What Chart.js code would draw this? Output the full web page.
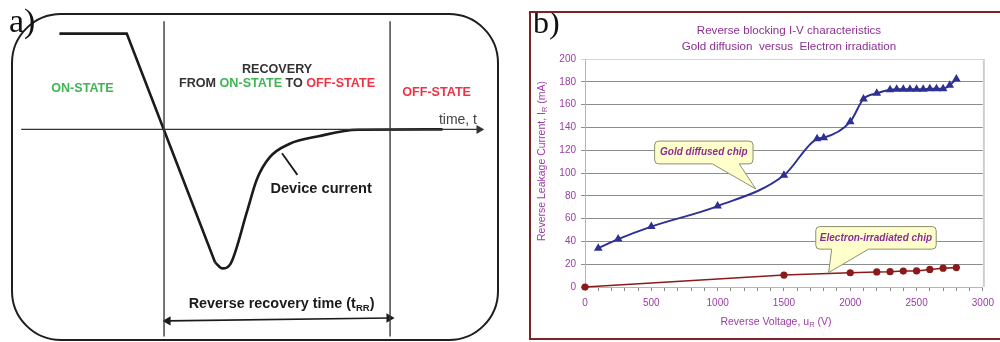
<!DOCTYPE html>
<html>
<head>
<meta charset="utf-8">
<title>Reverse recovery / reverse blocking I-V</title>
<script src="https://cdn.jsdelivr.net/npm/chart.js@4.4.1/dist/chart.umd.min.js"></script>
<style>
  body { margin: 0; width: 1000px; height: 342px; overflow: hidden; background: #fff; position: relative; }
  #boxA { position: absolute; left: 11px; top: 13px; width: 484px; height: 324px; border: 2px solid #1e1e1e; border-radius: 50px; }
  #boxB { position: absolute; left: 529px; top: 11px; width: 480px; height: 325px; border: 2px solid #7e2222; }
  #chartA { position: absolute; left: 0; top: 0; }
  #chartB { position: absolute; left: 531px; top: 13px; }
</style>
</head>
<body>
<div id="boxA"></div>
<div id="boxB"></div>
<canvas id="chartA" width="515" height="342"></canvas>
<canvas id="chartB" width="469" height="325"></canvas>
<script>
// ---- panel a) : schematic, time in % of tRR, current in % of on-state current
const onT = [-46.3, -16.5, 22.6];
const onI = [100, 100, -139];
const recT = [22.6, 25.8, 29.4, 36.7, 41, 46.8, 55.4, 68.4, 85.7, 123.2];
const recI = [-139, -145.2, -140.4, -85.9, -52.5, -29, -15.2, -7.1, -0.3, 0];
const axisT = [-63.2, 139.4];
const axisI = [0, 0];
const trrT = [0, 100];
const edgeI = [113, -216.2];
const markT = [1.7, 99.6];
const markI = [-200, -197];
const pointerT = [52.2, 59];
const pointerI = [-24.9, -47.5];

// ---- panel b) : reverse blocking I-V
const voltGold = [100, 250, 500, 1000, 1500, 1750, 1800, 2000, 2100, 2200, 2300, 2350, 2400, 2450, 2500, 2550, 2600, 2650, 2700, 2750, 2800];
const curGold = [34, 42, 53, 71, 98, 130, 131, 145, 165, 170, 173, 173.5, 173.5, 173.5, 173.5, 173.5, 174, 174, 174, 177, 182.5];
const voltElec = [0, 1500, 2000, 2200, 2300, 2400, 2500, 2600, 2700, 2800];
const curElec = [0, 10.5, 12.5, 13.2, 13.4, 14, 14.1, 15.4, 16.5, 17];

const sans = '"Liberation Sans", Arial, sans-serif';
const serif = '"Liberation Serif", "Times New Roman", serif';
const ink = '#1b1b1b';
const green = '#41b453';
const red = '#ef3345';
const purple = '#8c2f92';
const tickPurple = '#9a3ca6';
const navy = '#2e3192';
const maroon = '#8b1a1a';

const pts = (xs, ys) => xs.map((x, k) => ({ x: x, y: ys[k] }));

function drawRuns(ctx, runs, x, y, align) {
  let w = 0;
  runs.forEach(r => { ctx.font = r[2]; w += ctx.measureText(r[0]).width; });
  let sx = align === 'center' ? x - w / 2 : x;
  ctx.textAlign = 'left';
  ctx.textBaseline = 'middle';
  runs.forEach(r => {
    ctx.font = r[2];
    ctx.fillStyle = r[1];
    ctx.fillText(r[0], sx, y + (r[3] || 0));
    sx += ctx.measureText(r[0]).width;
  });
}

const stateFont = 'bold 12.6px ' + sans;
const bigBold = 'bold 14.4px ' + sans;
const labelsA = [
  { at: [-36.1, 42.4], runs: [['ON-STATE', green, stateFont]] },
  { at: [50, 62.6], runs: [['RECOVERY', '#333', stateFont]] },
  { at: [50, 48.2], runs: [['FROM ', '#333', stateFont], ['ON-STATE', green, stateFont], [' TO ', '#333', stateFont], ['OFF-STATE', red, stateFont]] },
  { at: [120.6, 38.1], runs: [['OFF-STATE', red, stateFont]] },
  { at: [121.6, 9.8], runs: [['time, t', '#444', '14px ' + sans]], align: 'left' },
  { at: [69.5, -62.6], runs: [['Device current', ink, 'bold 14.6px ' + sans]] },
  { at: [52, -182.8], runs: [['Reverse recovery time (t', ink, bigBold], ['RR', ink, 'bold 9.5px ' + sans, 4], [')', ink, bigBold]] }
];

const textA = {
  id: 'textA',
  afterDatasetsDraw(chart) {
    const ctx = chart.ctx, xs = chart.scales.x, ys = chart.scales.y;
    ctx.save();
    labelsA.forEach(l => {
      drawRuns(ctx, l.runs, xs.getPixelForValue(l.at[0]), ys.getPixelForValue(l.at[1]), l.align || 'center');
    });
    ctx.font = '34px ' + serif;
    ctx.fillStyle = '#111';
    ctx.textAlign = 'left';
    ctx.textBaseline = 'alphabetic';
    ctx.fillText('a)', 9, 32);
    ctx.restore();
  }
};

const seg = (xs, ys, extra) => Object.assign({
  data: pts(xs, ys), showLine: true, borderColor: '#3a3a3a', borderWidth: 1.4,
  pointRadius: 0, clip: false
}, extra);

new Chart(document.getElementById('chartA'), {
  type: 'scatter',
  data: {
    datasets: [
      seg(axisT, axisI, { borderColor: '#333', pointRadius: [0, 3.8], pointStyle: 'triangle', pointRotation: [0, 90], pointBackgroundColor: '#333', pointBorderColor: '#333' }),
      seg([trrT[0], trrT[0]], edgeI, {}),
      seg([trrT[1], trrT[1]], edgeI, {}),
      seg(markT, markI, { borderColor: ink, borderWidth: 1.6, pointRadius: 3.8, pointStyle: 'triangle', pointRotation: [-90, 90], pointBackgroundColor: ink, pointBorderColor: ink }),
      seg(onT, onI, { borderColor: ink, borderWidth: 2.6 }),
      seg(recT, recI, { borderColor: ink, borderWidth: 2.6, cubicInterpolationMode: 'monotone' }),
      seg(pointerT, pointerI, { borderColor: ink, borderWidth: 1.8 })
    ]
  },
  options: {
    responsive: false,
    animation: false,
    layout: { padding: 0 },
    plugins: { legend: { display: false }, tooltip: { enabled: false } },
    scales: {
      x: { type: 'linear', min: -70.1, max: 152.8, display: false },
      y: { type: 'linear', min: -216.2, max: 129.3, display: false }
    }
  },
  plugins: [textA]
});

// ---- panel b
const callouts = [
  { text: 'Gold diffused chip', tip: [1288, 86], box: [525, 1267, 128, 108], base: [960, 1163] },
  { text: 'Electron-irradiated chip', tip: [1837, 12.7], box: [1740, 2648, 53, 33.2], base: [1860, 2138] }
];

const textB = {
  id: 'textB',
  afterDatasetsDraw(chart) {
    const ctx = chart.ctx, xs = chart.scales.x, ys = chart.scales.y, a = chart.chartArea;
    ctx.save();
    ctx.strokeStyle = '#cfcfcf';
    ctx.lineWidth = 2;
    ctx.beginPath();
    ctx.moveTo(a.right + 1, a.top);
    ctx.lineTo(a.right + 1, a.bottom);
    ctx.stroke();

    callouts.forEach(c => {
      const L = xs.getPixelForValue(c.box[0]), R = xs.getPixelForValue(c.box[1]);
      const T = ys.getPixelForValue(c.box[2]), B = ys.getPixelForValue(c.box[3]);
      const b1 = xs.getPixelForValue(c.base[0]), b2 = xs.getPixelForValue(c.base[1]);
      const tx = xs.getPixelForValue(c.tip[0]), ty = ys.getPixelForValue(c.tip[1]);
      const r = 4;
      ctx.beginPath();
      ctx.moveTo(L + r, T);
      ctx.arcTo(R, T, R, B, r);
      ctx.arcTo(R, B, L, B, r);
      ctx.lineTo(b2, B);
      ctx.lineTo(tx, ty);
      ctx.lineTo(b1, B);
      ctx.arcTo(L, B, L, T, r);
      ctx.arcTo(L, T, R, T, r);
      ctx.closePath();
      ctx.fillStyle = '#ffffcc';
      ctx.fill();
      ctx.strokeStyle = '#8e8e70';
      ctx.lineWidth = 1;
      ctx.stroke();
      drawRuns(ctx, [[c.text, purple, 'italic bold 10px ' + sans]], (L + R) / 2, (T + B) / 2, 'center');
    });

    const cx = (a.left + a.right) / 2;
    const tf = '11.6px ' + sans;
    drawRuns(ctx, [['Reverse blocking I-V characteristics', purple, tf]], cx + 5, 18, 'center');
    drawRuns(ctx, [['Gold diffusion  versus  Electron irradiation', purple, tf]], cx + 5, 34, 'center');

    const af = '10.5px ' + sans, sf = '7.5px ' + sans;
    drawRuns(ctx, [['Reverse Voltage, u', tickPurple, af], ['R', tickPurple, sf, 3], [' (V)', tickPurple, af]], cx - 8, 309, 'center');
    ctx.translate(11, 148);
    ctx.rotate(-Math.PI / 2);
    drawRuns(ctx, [['Reverse Leakage Current, I', tickPurple, af], ['R', tickPurple, sf, 3], [' (mA)', tickPurple, af]], 0, 0, 'center');
    ctx.restore();

    ctx.save();
    ctx.font = '32px ' + serif;
    ctx.fillStyle = '#111';
    ctx.textAlign = 'left';
    ctx.textBaseline = 'alphabetic';
    ctx.fillText('b)', 2, 20);
    ctx.restore();
  }
};

const tickFont = { size: 10, family: sans };

new Chart(document.getElementById('chartB'), {
  type: 'scatter',
  data: {
    datasets: [
      {
        label: 'Gold diffused chip', data: pts(voltGold, curGold), showLine: true,
        borderColor: navy, backgroundColor: navy, borderWidth: 2,
        pointStyle: 'triangle', pointRadius: 3, cubicInterpolationMode: 'monotone', clip: false
      },
      {
        label: 'Electron-irradiated chip', data: pts(voltElec, curElec), showLine: true,
        borderColor: maroon, backgroundColor: maroon, borderWidth: 1.6,
        pointStyle: 'circle', pointRadius: 2.8, clip: false
      }
    ]
  },
  options: {
    responsive: false,
    animation: false,
    layout: { padding: { top: 46, right: 15, left: 0, bottom: 0 } },
    plugins: { legend: { display: false }, tooltip: { enabled: false } },
    scales: {
      x: {
        type: 'linear', min: 0, max: 3000,
        ticks: {
          stepSize: 100, autoSkip: false, maxRotation: 0, padding: 6, color: tickPurple, font: tickFont,
          callback: v => (v % 500 === 0 ? String(v) : '')
        },
        grid: { drawOnChartArea: false, tickLength: 4, color: '#888' },
        border: { color: '#b5b5b5' },
        afterFit: s => { s.height = 51; }
      },
      y: {
        type: 'linear', min: 0, max: 200,
        ticks: { stepSize: 20, padding: 5, color: tickPurple, font: tickFont },
        grid: { tickLength: 4, color: c => (c.tick && c.tick.value === 200 ? '#d8d8d8' : '#8c8c8c') },
        border: { color: '#b5b5b5' },
        afterFit: s => { s.width = 54; }
      }
    }
  },
  plugins: [textB]
});
</script>
</body>
</html>
